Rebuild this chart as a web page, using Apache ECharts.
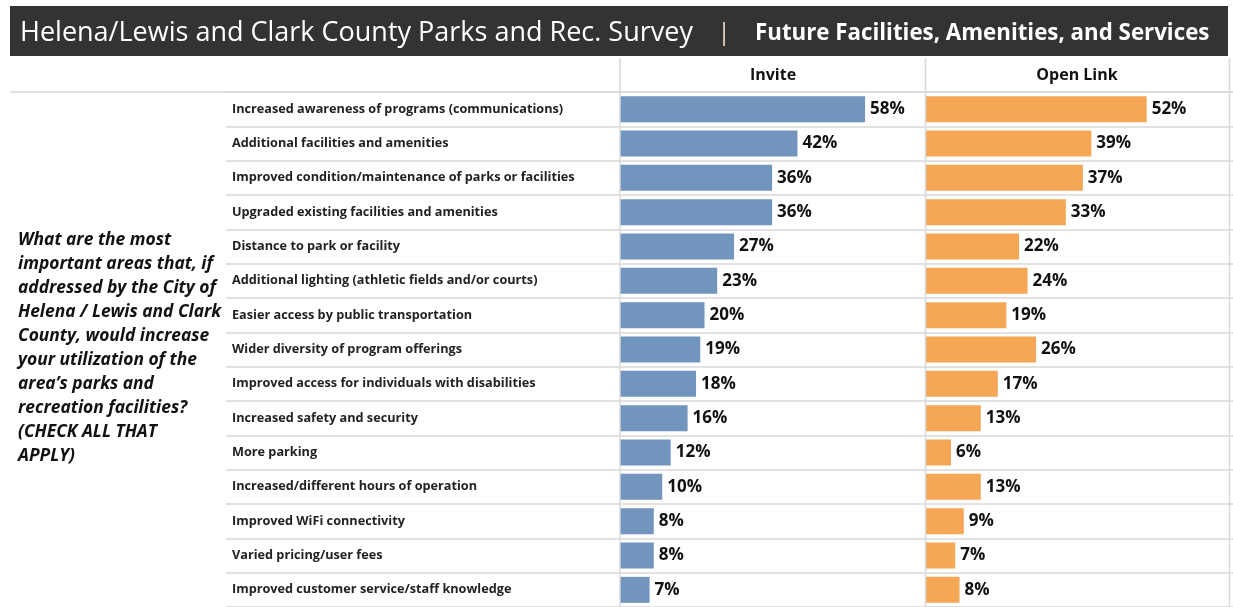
<!DOCTYPE html>
<html>
<head>
<meta charset="utf-8">
<title>Future Facilities, Amenities, and Services</title>
<script src="https://cdn.jsdelivr.net/npm/echarts@6/dist/echarts.min.js"></script>
<style>
  html, body { margin: 0; padding: 0; background: #ffffff; }
  #chart { width: 1233px; height: 607px; }
</style>
</head>
<body>
<div id="chart"></div>
<script>
// Survey answers, in display order (top to bottom)
const categories = [
  'Increased awareness of programs (communications)',
  'Additional facilities and amenities',
  'Improved condition/maintenance of parks or facilities',
  'Upgraded existing facilities and amenities',
  'Distance to park or facility',
  'Additional lighting (athletic fields and/or courts)',
  'Easier access by public transportation',
  'Wider diversity of program offerings',
  'Improved access for individuals with disabilities',
  'Increased safety and security',
  'More parking',
  'Increased/different hours of operation',
  'Improved WiFi connectivity',
  'Varied pricing/user fees',
  'Improved customer service/staff knowledge'
];

// Percent of respondents, by sample
const inviteValues   = [58, 42, 36, 36, 27, 23, 20, 19, 18, 16, 12, 10, 8, 8, 7];
const openLinkValues = [52, 39, 37, 33, 22, 24, 19, 26, 17, 13, 6, 13, 9, 7, 8];

const columnTitles = ['Invite', 'Open Link'];
const chartTitle = 'Helena/Lewis and Clark County Parks and Rec. Survey';
const chartSubtitle = 'Future Facilities, Amenities, and Services';
const questionLines = [
  'What are the most',
  'important areas that, if',
  'addressed by the City of',
  'Helena / Lewis and Clark',
  'County, would increase',
  'your utilization of the',
  'area\u2019s parks and',
  'recreation facilities?',
  '(CHECK ALL THAT',
  'APPLY)'
];

const FONT = '"Open Sans", "Noto Sans", sans-serif';
const GRID_LINE = '#d9d9d9';
const ROWS_TOP = 92;
const ROWS_HEIGHT = 517.5;
const X_MAX = 72.3;

const chart = echarts.init(document.getElementById('chart'), null, { renderer: 'canvas' });

function valueAxis(gridIndex) {
  return {
    type: 'value', gridIndex: gridIndex, min: 0, max: X_MAX,
    show: false, splitLine: { show: false }
  };
}

function catAxis(gridIndex, showLabels) {
  return {
    type: 'category', gridIndex: gridIndex, data: categories, inverse: true,
    axisLine: { show: false }, axisTick: { show: false },
    splitLine: { show: true, lineStyle: { color: GRID_LINE, width: 1.5 } },
    axisLabel: showLabels ? {
      show: true, inside: true, align: 'left', margin: 6,
      color: '#222', fontFamily: FONT, fontWeight: 'bold', fontSize: 12.7
    } : { show: false }
  };
}

function barLabel() {
  return {
    show: true, position: 'right', distance: 5,
    formatter: '{c}%', color: '#111',
    fontFamily: FONT, fontWeight: 'bold', fontSize: 17
  };
}

const graphics = [
  // dark title band
  { type: 'rect', shape: { x: 10, y: 6, width: 1218, height: 50 }, style: { fill: '#333333' }, silent: true },
  { type: 'text', x: 20, y: 33, style: { text: chartTitle, fill: '#ffffff', font: '27px ' + FONT, textVerticalAlign: 'middle' } },
  { type: 'text', x: 724, y: 33, style: { text: '|', fill: '#eadcc4', font: '24px ' + FONT, textVerticalAlign: 'middle', textAlign: 'center' } },
  { type: 'text', x: 755, y: 34, style: { text: chartSubtitle, fill: '#ffffff', font: 'bold 22.3px ' + FONT, textVerticalAlign: 'middle' } },
  // column header texts
  { type: 'text', x: 773, y: 75, style: { text: columnTitles[0], fill: '#111', font: 'bold 16px ' + FONT, textAlign: 'center', textVerticalAlign: 'middle' } },
  { type: 'text', x: 1077, y: 75, style: { text: columnTitles[1], fill: '#111', font: 'bold 16px ' + FONT, textAlign: 'center', textVerticalAlign: 'middle' } },
  // header rule and column dividers
  { type: 'line', shape: { x1: 10, y1: ROWS_TOP, x2: 1233, y2: ROWS_TOP }, style: { stroke: GRID_LINE, lineWidth: 1.5 }, silent: true },
  { type: 'line', shape: { x1: 620, y1: 58, x2: 620, y2: 607 }, style: { stroke: GRID_LINE, lineWidth: 1.5 }, silent: true, z: 10 },
  { type: 'line', shape: { x1: 925.5, y1: 58, x2: 925.5, y2: 607 }, style: { stroke: GRID_LINE, lineWidth: 1.5 }, silent: true, z: 10 },
  { type: 'line', shape: { x1: 1229.5, y1: 58, x2: 1229.5, y2: 607 }, style: { stroke: GRID_LINE, lineWidth: 1.5 }, silent: true, z: 10 }
];

// question text on the left
questionLines.forEach(function (line, i) {
  graphics.push({
    type: 'text', x: 18, y: 240 + i * 24,
    style: { text: line, fill: '#111', font: 'italic bold 17.4px ' + FONT, textVerticalAlign: 'middle' }
  });
});

chart.setOption({
  animation: false,
  backgroundColor: '#ffffff',
  grid: [
    { left: 226, width: 394, top: ROWS_TOP, height: ROWS_HEIGHT },
    { left: 620, width: 305.5, top: ROWS_TOP, height: ROWS_HEIGHT },
    { left: 925.5, width: 307.5, top: ROWS_TOP, height: ROWS_HEIGHT }
  ],
  xAxis: [valueAxis(0), valueAxis(1), valueAxis(2)],
  yAxis: [catAxis(0, true), catAxis(1, false), catAxis(2, false)],
  series: [
    {
      name: columnTitles[0], type: 'bar', xAxisIndex: 1, yAxisIndex: 1,
      data: inviteValues, barWidth: 26,
      itemStyle: { color: '#7195bd' }, label: barLabel()
    },
    {
      name: columnTitles[1], type: 'bar', xAxisIndex: 2, yAxisIndex: 2,
      data: openLinkValues, barWidth: 26,
      itemStyle: { color: '#f5a756' }, label: barLabel()
    }
  ],
  graphic: graphics
});
</script>
</body>
</html>
